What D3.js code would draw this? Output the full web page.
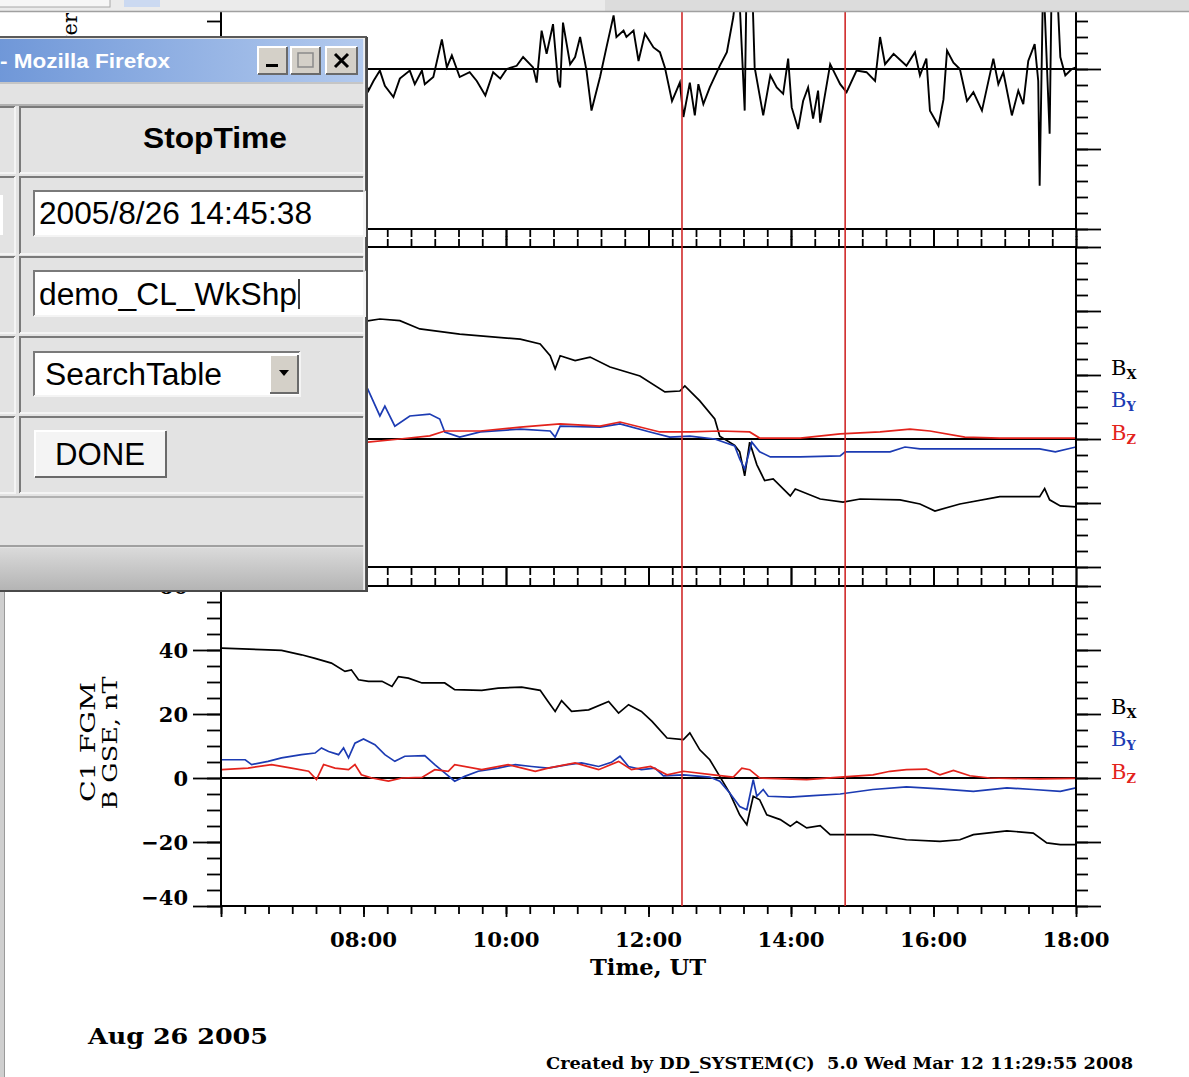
<!DOCTYPE html>
<html>
<head>
<meta charset="utf-8">
<script src="https://cdn.jsdelivr.net/npm/d3@7"></script>
<style>
  body { margin: 0; background: #fff; }
  svg { display: block; }
</style>
</head>
<body>
<svg id="chart" width="1189" height="1077"></svg>
<script>
// ---- data, [hour UT, value] ----
// top panel (label mostly hidden), units unknown
const topPower = [[6.0,-0.1],[6.3,0.12],[6.6,-0.05],[6.9,0.2],[7.2,-0.15],[7.5,0.05],[7.8,-0.25],[8.0,-0.1],
  [8.07,-0.27],[8.14,-0.15],[8.23,-0.02],[8.30,-0.21],[8.42,-0.35],[8.51,-0.12],[8.65,-0.02],[8.72,-0.19],[8.82,-0.02],
  [8.86,-0.19],[8.98,-0.1],[9.10,0.37],[9.17,0.02],[9.24,0.17],[9.35,-0.1],[9.49,-0.04],[9.59,-0.15],[9.71,-0.33],
  [9.82,-0.04],[9.92,-0.12],[10.01,0],[10.15,0.04],[10.24,0.15],[10.38,0.02],[10.43,-0.17],[10.50,0.48],[10.57,0.19],
  [10.66,0.56],[10.73,-0.15],[10.76,-0.23],[10.80,0.58],[10.90,0.06],[10.97,0.15],[11.04,0.4],[11.13,-0.02],[11.20,-0.52],
  [11.32,-0.1],[11.41,0.27],[11.51,0.67],[11.55,0.4],[11.65,0.48],[11.69,0.4],[11.79,0.48],[11.86,0.1],[11.95,0.44],
  [12.07,0.27],[12.16,0.21],[12.23,0.02],[12.33,-0.4],[12.44,-0.17],[12.49,-0.6],[12.58,-0.17],[12.65,-0.58],[12.70,-0.19],
  [12.77,-0.44],[12.86,-0.23],[13.00,0.04],[13.10,0.21],[13.19,0.65],[13.26,1.2],[13.35,-0.52],[13.38,1.3],[13.45,1.2],
  [13.49,0.02],[13.61,-0.58],[13.71,-0.08],[13.80,-0.23],[13.89,-0.31],[13.96,0.13],[14.01,-0.48],[14.10,-0.75],[14.17,-0.4],
  [14.24,-0.23],[14.31,-0.62],[14.38,-0.27],[14.41,-0.67],[14.55,0.06],[14.69,-0.19],[14.78,-0.29],[14.92,-0.02],[15.06,-0.04],
  [15.18,-0.15],[15.25,0.4],[15.32,0.06],[15.44,0.19],[15.62,0.04],[15.74,0.21],[15.81,-0.08],[15.90,0.13],[15.95,-0.52],
  [16.07,-0.71],[16.14,-0.38],[16.19,0.23],[16.28,0.08],[16.37,0],[16.47,-0.4],[16.56,-0.29],[16.68,-0.52],[16.84,0.13],
  [16.91,-0.19],[16.98,-0.04],[17.10,-0.58],[17.19,-0.27],[17.26,-0.44],[17.33,0.1],[17.42,0.31],[17.47,-0.15],[17.49,-1.46],
  [17.54,1.2],[17.63,-0.81],[17.66,1.2],[17.73,1.1],[17.78,0.15],[17.85,-0.08],[17.94,0],[18.0,0.02]]

// middle panel, B GSE nT (left part hidden by the dialog)
const midBx = [[6.0,42],[7.0,40],[7.6,38],[8.06,36.9],[8.23,37.5],[8.51,37],[8.79,34.4],[9.35,32.8],[10.20,31.2],[10.48,29.7],
  [10.62,26],[10.69,21.9],[10.76,26],[10.97,24.5],[11.18,25.6],[11.46,22.5],[11.88,19.7],[12.23,14.7],[12.44,15],[12.51,16.6],
  [12.72,11.9],[12.93,6.25],[13.00,0.9],[13.21,-2],[13.28,-4],[13.35,-11.5],[13.42,-1],[13.52,-8],[13.63,-13],[13.75,-12.5],
  [13.99,-17.8],[14.06,-15.6],[14.41,-18.75],[14.73,-19.7],[14.97,-18.75],[15.53,-19],[15.81,-20.3],[16.02,-22.5],[16.37,-20.3],
  [16.93,-18],[17.49,-18],[17.56,-15.5],[17.63,-19],[17.78,-20.9],[18.0,-21.2]]
const midBy = [[6.0,6],[7.0,9],[7.8,13],[8.06,15.6],[8.23,7.2],[8.30,10.3],[8.44,4],[8.65,7.2],[8.93,7.8],[9.07,6.25],[9.14,2.2],
  [9.35,0.6],[9.64,2.2],[10.20,3.1],[10.62,2.5],[10.69,0.6],[10.76,4],[11.32,3.7],[11.60,4.7],[12.02,2.2],[12.30,0.6],
  [12.58,0.9],[12.93,0],[13.21,-2.2],[13.28,-6.25],[13.35,-9.4],[13.45,-1],[13.56,-4],[13.71,-5.6],[14.13,-5.6],[14.69,-5.3],
  [14.76,-4],[15.39,-4],[15.60,-2.5],[15.81,-3.1],[16.93,-3.1],[17.49,-3.1],[17.71,-4],[18.0,-2.5]]
const midBz = [[6.0,2],[7.0,1],[7.8,0],[8.06,-1],[8.51,0],[8.93,1],[9.14,2.5],[9.64,2.5],[10.20,3.7],[10.76,4.7],[11.32,4],
  [11.60,5.3],[12.16,2.2],[12.58,2.2],[13.00,2.5],[13.42,2.2],[13.56,0.3],[14.13,0.3],[14.69,1.6],[15.25,2.2],[15.67,3.1],
  [15.95,2.5],[16.44,0.6],[16.93,0.3],[18.0,0.3]]

// bottom panel, C1 FGM B GSE nT
const c1Bx = [[6.01,40.6],[6.57,40.1],[6.85,39.9],[7.13,38.5],[7.32,37.4],[7.55,35.9],[7.74,33.3],[7.83,33.8],[7.93,30.7],
  [8.07,30.2],[8.26,30.2],[8.40,28.6],[8.49,31.7],[8.63,31.2],[8.82,29.7],[9.14,29.7],[9.28,27.6],[9.66,27.4],[9.89,28.1],
  [10.22,28.4],[10.48,27.4],[10.59,23.9],[10.69,20.8],[10.78,24.2],[10.92,20.8],[11.16,21.3],[11.44,23.9],[11.58,20.3],
  [11.72,22.9],[11.90,20.8],[12.05,17.7],[12.26,12.5],[12.49,12],[12.58,14.1],[12.72,8.8],[12.86,5.7],[13.00,0.5],
  [13.14,-4.7],[13.28,-11.5],[13.38,-14.6],[13.47,-5.7],[13.56,-6.8],[13.66,-11.5],[13.85,-13],[13.99,-15.1],[14.08,-13.6],
  [14.22,-15.6],[14.41,-14.9],[14.55,-17.7],[14.73,-17.7],[15.15,-17.7],[15.62,-19.3],[16.09,-19.8],[16.37,-19.3],
  [16.56,-17.7],[17.03,-16.5],[17.40,-17.2],[17.59,-20.3],[17.78,-20.8],[18.0,-20.8]]
const c1By = [[6.01,5.7],[6.34,5.7],[6.43,4.2],[6.66,5.2],[6.85,6.3],[7.13,7.3],[7.32,7.8],[7.41,9.4],[7.51,8.3],[7.65,7.3],
  [7.72,9.4],[7.79,6.3],[7.88,10.9],[8.00,12.2],[8.16,10.4],[8.30,7.3],[8.44,5.2],[8.58,6.8],[8.86,7],[9.00,4.2],[9.14,1.6],
  [9.28,-1.0],[9.42,0.5],[9.61,2.1],[9.89,3.1],[10.13,4.2],[10.36,3.6],[10.59,3.1],[10.87,4.2],[11.06,4.7],[11.30,3.6],
  [11.48,4.9],[11.60,6.8],[11.72,3.6],[11.90,2.6],[12.09,3.1],[12.21,0.7],[12.49,1],[12.86,0.3],[13.00,-1],[13.14,-4.7],
  [13.28,-8.9],[13.38,-9.9],[13.47,-0.5],[13.52,-5.7],[13.61,-3.6],[13.68,-5.7],[13.99,-6],[14.31,-5.5],[14.69,-5],
  [15.15,-3.6],[15.62,-2.8],[16.09,-3.4],[16.56,-4.2],[17.03,-3.1],[17.40,-3.6],[17.78,-4.2],[18.0,-3.1]]
const c1Bz = [[6.01,2.6],[6.38,3.1],[6.71,4.2],[6.99,3.1],[7.23,2.1],[7.34,-0.5],[7.44,4.2],[7.60,3.1],[7.79,2.6],[7.88,4.2],
  [7.97,1],[8.12,0],[8.35,-1],[8.54,0],[8.82,0.2],[9.00,2.6],[9.19,2.1],[9.28,4.2],[9.66,2.6],[10.03,4.2],[10.41,2.1],
  [10.59,3.1],[10.97,4.7],[11.30,2.6],[11.58,5.2],[11.76,2.6],[12.03,3.6],[12.26,1],[12.49,2.1],[12.91,1],[13.19,0.3],
  [13.31,3.1],[13.42,2.6],[13.56,0],[14.22,-0.5],[14.69,0.3],[15.15,1],[15.39,2.1],[15.62,2.6],[15.90,2.8],[16.09,1],
  [16.28,2.4],[16.51,0.7],[16.79,0],[17.49,-0.3],[18.0,-0.1]]

const timeTicks = [8, 10, 12, 14, 16, 18]
const timeLabels = ['08:00', '10:00', '12:00', '14:00', '16:00', '18:00']
const bTickValues = [60, 40, 20, 0, -20, -40]
const markerTimes = [12.47, 14.76]   // selected interval start / stop
const compNames = ['X', 'Y', 'Z']
const compColors = ['#000000', '#1c3bb3', '#e3231c']
const legendAt = [20, 10, 0]

const svg = d3.select('#chart')
const serif = "'DejaVu Serif', serif"
const sans = "'Liberation Sans', Arial, sans-serif"

const x = d3.scaleLinear().domain([6, 18]).range([221, 1076])
const xMinor = d3.range(0, 37).map(i => 6 + i / 3)
const xMajor = d3.range(6, 19, 2)

let panels = [
  {key: 'top', top: -91, bottom: 229, domain: [-2, 2], minor: d3.range(-10, 11).map(i => i / 5), major: [-2, -1, 0, 1, 2],
    series: [{data: topPower, color: '#000', w: 1.9}]},
  {key: 'mid', top: 247, bottom: 567, domain: [-40, 60], minor: d3.range(-40, 61, 5), major: d3.range(-40, 61, 20),
    series: [midBx, midBy, midBz].map((d, i) => ({data: d, color: compColors[i], w: 1.7}))},
  {key: 'bot', top: 586, bottom: 906, domain: [-40, 60], minor: d3.range(-40, 61, 5), major: d3.range(-40, 61, 20),
    series: [c1Bx, c1By, c1Bz].map((d, i) => ({data: d, color: compColors[i], w: 1.7}))}
]

let defs = svg.append('defs')

let tickGroup = (g, axis, vals, size) => {
  g.call(axis.tickValues(vals).tickSize(size).tickSizeOuter(0).tickFormat(''))
  g.select('.domain').remove()
  g.selectAll('line').attr('stroke', '#000').attr('stroke-width', 1.8)
}

panels.forEach(p => {
  const y = d3.scaleLinear().domain(p.domain).range([p.bottom, p.top])
  p.y = y
  defs.append('clipPath').attr('id', 'clip-' + p.key)
    .append('rect').attr('x', 221).attr('y', p.top).attr('width', 855).attr('height', p.bottom - p.top)

  const g = svg.append('g').attr('class', 'panel-' + p.key)

  // zero line
  g.append('line').attr('x1', 221).attr('x2', 1076).attr('y1', y(0)).attr('y2', y(0))
    .attr('stroke', '#000').attr('stroke-width', 1.8)

  // traces
  const line = d3.line().x(d => x(d[0])).y(d => y(d[1]))
  g.append('g').attr('clip-path', 'url(#clip-' + p.key + ')')
    .selectAll('path').data(p.series).join('path')
    .attr('d', s => line(s.data))
    .attr('fill', 'none')
    .attr('stroke', s => s.color)
    .attr('stroke-width', s => s.w)

  // frame
  g.append('rect').attr('x', 221).attr('y', p.top).attr('width', 855).attr('height', p.bottom - p.top)
    .attr('fill', 'none').attr('stroke', '#000').attr('stroke-width', 2)

  // ticks, all pointing outwards
  tickGroup(g.append('g').attr('transform', 'translate(221,0)'), d3.axisLeft(y), p.minor, 14)
  tickGroup(g.append('g').attr('transform', 'translate(221,0)'), d3.axisLeft(y), p.major, 28)
  tickGroup(g.append('g').attr('transform', 'translate(1076,0)'), d3.axisRight(y), p.minor, 12)
  tickGroup(g.append('g').attr('transform', 'translate(1076,0)'), d3.axisRight(y), p.major, 25)
  tickGroup(g.append('g').attr('transform', `translate(0,${p.top})`), d3.axisTop(x), xMinor, 8)
  tickGroup(g.append('g').attr('transform', `translate(0,${p.top})`), d3.axisTop(x), xMajor, 11)
  tickGroup(g.append('g').attr('transform', `translate(0,${p.bottom})`), d3.axisBottom(x), xMinor, 8)
  tickGroup(g.append('g').attr('transform', `translate(0,${p.bottom})`), d3.axisBottom(x), xMajor, 11)
})

const [pTop, pMid, pBot] = panels

// y tick labels (only the bottom panel's are visible, the dialog covers the others)
svg.append('g').selectAll('text').data(bTickValues).join('text')
  .attr('x', 188)
  .attr('y', d => pBot.y(d) + (d === -40 ? -9 : 0))
  .attr('dy', '0.36em')
  .attr('text-anchor', 'end')
  .attr('font-family', serif).attr('font-weight', 'bold').attr('font-size', 21)
  .text(d => d < 0 ? '\u2212' + Math.abs(d) : d)

// component legend on the right of both field panels
;[pMid, pBot].forEach(p => {
  const lg = svg.append('g').selectAll('text').data(compNames).join('text')
    .attr('x', 1111)
    .attr('y', (d, i) => p.y(legendAt[i]) + (i === 2 ? 1 : 0))
    .attr('font-family', serif).attr('font-size', 21)
    .attr('fill', (d, i) => compColors[i])
  lg.append('tspan').text('B')
  lg.append('tspan').attr('dy', 4).attr('font-size', 13).attr('font-weight', 'bold').text(d => d)
})

// y axis titles
svg.append('text').attr('transform', `translate(95,742) rotate(-90)`)
  .attr('text-anchor', 'middle').attr('font-family', serif).attr('font-size', 21)
  .attr('textLength', 120).attr('lengthAdjust', 'spacingAndGlyphs').text('C1 FGM')
svg.append('text').attr('transform', `translate(117,743) rotate(-90)`)
  .attr('text-anchor', 'middle').attr('font-family', serif).attr('font-size', 21)
  .attr('textLength', 133).attr('lengthAdjust', 'spacingAndGlyphs').text('B GSE, nT')
// top panel title: only its last letters peek out above the dialog
defs.append('clipPath').attr('id', 'clip-toplabel')
  .append('rect').attr('x', 40).attr('y', 0).attr('width', 60).attr('height', 37)
svg.append('g').attr('clip-path', 'url(#clip-toplabel)')
  .append('text').attr('transform', `translate(77,13) rotate(-90)`)
  .attr('text-anchor', 'end').attr('font-family', serif).attr('font-size', 21).text('Power')

// time axis labels
svg.append('g').selectAll('text').data(timeTicks).join('text')
  .attr('x', d => x(d)).attr('y', 947)
  .attr('text-anchor', 'middle')
  .attr('font-family', serif).attr('font-weight', 'bold').attr('font-size', 21)
  .attr('textLength', 67).attr('lengthAdjust', 'spacingAndGlyphs')
  .text((d, i) => timeLabels[i])
svg.append('text').attr('x', 648).attr('y', 975).attr('text-anchor', 'middle')
  .attr('font-family', serif).attr('font-weight', 'bold').attr('font-size', 23)
  .attr('textLength', 116).attr('lengthAdjust', 'spacingAndGlyphs').text('Time, UT')

// selected interval markers
svg.append('g').selectAll('line').data(markerTimes).join('line')
  .attr('x1', d => x(d)).attr('x2', d => x(d))
  .attr('y1', pTop.top).attr('y2', pBot.bottom)
  .attr('stroke', '#d02a2a').attr('stroke-width', 1.6)

// footer
svg.append('text').attr('x', 88).attr('y', 1044)
  .attr('font-family', serif).attr('font-weight', 'bold').attr('font-size', 23)
  .attr('textLength', 180).attr('lengthAdjust', 'spacingAndGlyphs').text('Aug 26 2005')
svg.append('text').attr('x', 546).attr('y', 1069).style('white-space', 'pre')
  .attr('font-family', serif).attr('font-weight', 'bold').attr('font-size', 17)
  .attr('textLength', 587).attr('lengthAdjust', 'spacingAndGlyphs')
  .text('Created by DD_SYSTEM(C)  5.0 Wed Mar 12 11:29:55 2008')

// ---- browser chrome around the plot ----
svg.append('rect').attr('x', 0).attr('y', 0).attr('width', 1189).attr('height', 11).attr('fill', '#ebebeb')
svg.append('rect').attr('x', 605).attr('y', 0).attr('width', 584).attr('height', 11).attr('fill', '#dcdcdc')
svg.append('rect').attr('x', -2).attr('y', -2).attr('width', 112).attr('height', 9)
  .attr('fill', '#f6f6f6').attr('stroke', '#a8a8a8')
svg.append('rect').attr('x', 124).attr('y', 0).attr('width', 36).attr('height', 7).attr('fill', '#cbd9f1')
svg.append('line').attr('x1', 0).attr('x2', 1189).attr('y1', 11.5).attr('y2', 11.5).attr('stroke', '#a0a0a0').attr('stroke-width', 1.5)
svg.append('rect').attr('x', 0).attr('y', 590).attr('width', 4).attr('height', 487).attr('fill', '#cfcfcf')
svg.append('line').attr('x1', 4.5).attr('x2', 4.5).attr('y1', 590).attr('y2', 1077).attr('stroke', '#9a9a9a')

// ---- the Firefox dialog lying over the left part ----
const dlg = svg.append('g').attr('class', 'dialog')
const grad = defs.append('linearGradient').attr('id', 'titlebar')
grad.append('stop').attr('offset', '0%').attr('stop-color', '#6f97d8')
grad.append('stop').attr('offset', '100%').attr('stop-color', '#b3caee')
const band = defs.append('linearGradient').attr('id', 'band').attr('x1', 0).attr('x2', 0).attr('y1', 0).attr('y2', 1)
band.append('stop').attr('offset', '0%').attr('stop-color', '#dadada')
band.append('stop').attr('offset', '100%').attr('stop-color', '#b4b4b4')

dlg.append('rect').attr('x', -4).attr('y', 37).attr('width', 370).attr('height', 554)
  .attr('fill', '#e3e3e3').attr('stroke', '#5a5a5a').attr('stroke-width', 2)
dlg.append('rect').attr('x', -4).attr('y', 39).attr('width', 368).attr('height', 43).attr('fill', 'url(#titlebar)')
dlg.append('text').attr('x', 0).attr('y', 68).attr('fill', '#fff')
  .attr('font-family', sans).attr('font-weight', 'bold').attr('font-size', 21)
  .attr('textLength', 170).attr('lengthAdjust', 'spacingAndGlyphs').text('- Mozilla Firefox')

let bevel = (g, x0, y0, w, h, fill, raised) => {
  const lt = raised ? '#ffffff' : '#7a7a7a'
  const rb = raised ? '#6a6a6a' : '#f4f4f4'
  g.append('rect').attr('x', x0).attr('y', y0).attr('width', w).attr('height', h).attr('fill', fill)
  g.append('path').attr('d', `M${x0},${y0 + h}V${y0}H${x0 + w}`).attr('fill', 'none').attr('stroke', lt).attr('stroke-width', 2)
  g.append('path').attr('d', `M${x0 + w},${y0}V${y0 + h}H${x0}`).attr('fill', 'none').attr('stroke', rb).attr('stroke-width', 2)
}

// title buttons
bevel(dlg, 258, 47, 29, 27, '#d4d0c8', true)
bevel(dlg, 291, 47, 29, 27, '#d4d0c8', true)
bevel(dlg, 326, 47, 31, 27, '#d4d0c8', true)
dlg.append('rect').attr('x', 266).attr('y', 64).attr('width', 12).attr('height', 3).attr('fill', '#000')
dlg.append('rect').attr('x', 298).attr('y', 53).attr('width', 15).attr('height', 14)
  .attr('fill', 'none').attr('stroke', '#8a8a8a').attr('stroke-width', 1.5)
dlg.append('path').attr('d', 'M335,54L348,67M348,54L335,67').attr('stroke', '#000').attr('stroke-width', 3)

// strip under the title bar
dlg.append('line').attr('x1', -4).attr('x2', 364).attr('y1', 83).attr('y2', 83).attr('stroke', '#a8a8a8')
dlg.append('line').attr('x1', -4).attr('x2', 364).attr('y1', 105).attr('y2', 105).attr('stroke', '#a0a0a0').attr('stroke-width', 1.5)

// table cells
const rowEdges = [[107, 173], [177, 254], [257, 333], [337, 413], [417, 493]]
rowEdges.forEach(r => {
  bevel(dlg, -6, r[0], 21, r[1] - r[0], '#e3e3e3', false)
  bevel(dlg, 20, r[0], 344, r[1] - r[0], '#e3e3e3', false)
})
dlg.append('rect').attr('x', 0).attr('y', 195).attr('width', 3).attr('height', 40).attr('fill', '#fff')

dlg.append('text').attr('x', 215).attr('y', 148).attr('text-anchor', 'middle')
  .attr('font-family', sans).attr('font-weight', 'bold').attr('font-size', 30)
  .attr('textLength', 144).attr('lengthAdjust', 'spacingAndGlyphs').text('StopTime')

bevel(dlg, 34, 191, 332, 45, '#ffffff', false)
dlg.append('text').attr('x', 39).attr('y', 224).attr('font-family', sans).attr('font-size', 31)
  .attr('textLength', 273).attr('lengthAdjust', 'spacingAndGlyphs').text('2005/8/26 14:45:38')

bevel(dlg, 34, 271, 332, 45, '#ffffff', false)
dlg.append('text').attr('x', 39).attr('y', 305).attr('font-family', sans).attr('font-size', 31)
  .attr('textLength', 258).attr('lengthAdjust', 'spacingAndGlyphs').text('demo_CL_WkShp')
dlg.append('line').attr('x1', 299).attr('x2', 299).attr('y1', 279).attr('y2', 309).attr('stroke', '#000').attr('stroke-width', 1.5)

bevel(dlg, 34, 352, 266, 44, '#ffffff', false)
dlg.append('text').attr('x', 45).attr('y', 385).attr('font-family', sans).attr('font-size', 31)
  .attr('textLength', 177).attr('lengthAdjust', 'spacingAndGlyphs').text('SearchTable')
bevel(dlg, 270, 355, 28, 38, '#d4d0c8', true)
dlg.append('path').attr('d', 'M279,370H289L284,376Z').attr('fill', '#000')

bevel(dlg, 35, 431, 131, 46, '#f4f4f4', true)
dlg.append('text').attr('x', 55).attr('y', 465).attr('font-family', sans).attr('font-size', 31)
  .attr('textLength', 90).attr('lengthAdjust', 'spacingAndGlyphs').text('DONE')

// lower part of the window
dlg.append('line').attr('x1', -4).attr('x2', 364).attr('y1', 497).attr('y2', 497).attr('stroke', '#a0a0a0').attr('stroke-width', 1.5)
dlg.append('line').attr('x1', -4).attr('x2', 364).attr('y1', 546).attr('y2', 546).attr('stroke', '#8a8a8a').attr('stroke-width', 1.5)
dlg.append('rect').attr('x', -4).attr('y', 548).attr('width', 368).attr('height', 42).attr('fill', 'url(#band)')
dlg.append('line').attr('x1', 364).attr('x2', 364).attr('y1', 38).attr('y2', 591).attr('stroke', '#f2f2f2').attr('stroke-width', 1.5)
dlg.append('line').attr('x1', 367).attr('x2', 367).attr('y1', 37).attr('y2', 592).attr('stroke', '#4a4a4a').attr('stroke-width', 2)
dlg.append('line').attr('x1', -4).attr('x2', 368).attr('y1', 591).attr('y2', 591).attr('stroke', '#4a4a4a').attr('stroke-width', 2)
</script>
</body>
</html>
